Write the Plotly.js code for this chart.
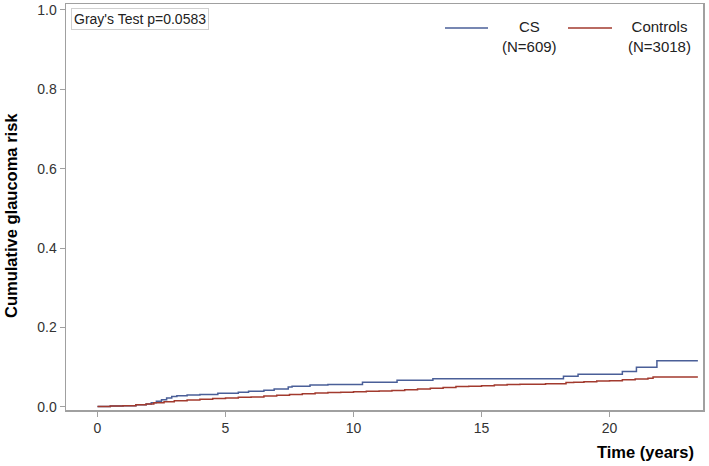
<!DOCTYPE html>
<html>
<head>
<meta charset="utf-8">
<script src="https://cdn.plot.ly/plotly-3.0.1.min.js"></script>
<style>html,body{margin:0;padding:0;background:#fff;}#chart{width:709px;height:466px;}</style>
</head>
<body>
<div id="chart"></div>
<script>
// Cumulative incidence (step functions)
const csTime = [0, 0.5, 1.0, 1.5, 1.9, 2.1, 2.3, 2.5, 2.7, 2.9, 3.1, 3.5, 4.0, 4.7, 5.5, 5.9, 6.5, 6.9, 7.45, 7.6, 8.3, 9.0, 10.35, 11.7, 13.1, 18.2, 18.77, 20.5, 21.05, 21.85, 23.45];
const csRisk = [0.001, 0.002, 0.003, 0.005, 0.007, 0.010, 0.014, 0.018, 0.022, 0.026, 0.028, 0.030, 0.031, 0.034, 0.037, 0.039, 0.042, 0.045, 0.050, 0.052, 0.055, 0.056, 0.062, 0.067, 0.071, 0.077, 0.082, 0.089, 0.100, 0.116, 0.116];

const ctlTime = [0, 0.5, 1.0, 1.5, 1.9, 2.2, 2.6, 3.0, 3.5, 4.0, 4.5, 5.0, 5.5, 6.0, 6.5, 7.0, 7.5, 8.0, 8.5, 9.0, 9.5, 10.0, 10.5, 11.0, 11.5, 12.0, 12.5, 13.0, 13.5, 14.0, 14.5, 15.0, 15.5, 16.0, 16.5, 17.0, 17.5, 18.0, 18.3, 18.6, 19.0, 19.5, 20.0, 20.5, 21.0, 21.5, 21.7, 23.45];
const ctlRisk = [0.001, 0.002, 0.003, 0.005, 0.007, 0.010, 0.013, 0.015, 0.017, 0.019, 0.021, 0.022, 0.024, 0.025, 0.027, 0.029, 0.031, 0.033, 0.035, 0.036, 0.037, 0.038, 0.039, 0.040, 0.041, 0.043, 0.045, 0.047, 0.049, 0.051, 0.052, 0.053, 0.055, 0.056, 0.057, 0.057, 0.058, 0.058, 0.061, 0.062, 0.063, 0.065, 0.066, 0.068, 0.070, 0.072, 0.075, 0.075];

const seriesNames = ["CS", "Controls"];
const seriesN = ["(N=609)", "(N=3018)"];
const seriesColors = ["#4a5f98", "#A23A2E"];
const xTicks = [0, 5, 10, 15, 20];
const yTicks = [0.0, 0.2, 0.4, 0.6, 0.8, 1.0];
const yTickText = ["0.0", "0.2", "0.4", "0.6", "0.8", "1.0"];
const testLabel = "Gray's Test p=0.0583";

const FONT = "Liberation Sans, Arial, sans-serif";

const traces = [
  {x: csTime, y: csRisk, mode: "lines", line: {shape: "hv", color: seriesColors[0], width: 1.5}, name: seriesNames[0], showlegend: false},
  {x: ctlTime, y: ctlRisk, mode: "lines", line: {shape: "hv", color: seriesColors[1], width: 1.5}, name: seriesNames[1], showlegend: false}
];

const axisCommon = {
  showline: true, mirror: true, linecolor: "#a0a0a0", linewidth: 1.5,
  ticks: "outside", ticklen: 5, tickcolor: "#a0a0a0", tickwidth: 1,
  showgrid: false, zeroline: false,
  tickfont: {family: FONT, size: 14, color: "#333"}
};

// legend drawn manually (centered two-line labels)
const legX = [[445, 488, 529], [568, 612, 659]];
const shapes = [];
const annotations = [];
const W = 709, ml = 66, mr = 6, mt = 4, mb = 56;
const pw = W - ml - mr, ph = 466 - mt - mb;
const px = v => (v - ml) / pw;
const py = v => (466 - mb - v) / ph;
for (let i = 0; i < 2; i++) {
  shapes.push({type: "line", xref: "paper", yref: "paper", x0: px(legX[i][0]), x1: px(legX[i][1]), y0: py(28), y1: py(28), line: {color: seriesColors[i], width: 1.5}});
  annotations.push({xref: "paper", yref: "paper", x: px(legX[i][2]), y: py(37), text: seriesNames[i] + "<br>" + seriesN[i], showarrow: false, align: "center", xanchor: "center", yanchor: "middle", font: {family: FONT, size: 15, color: "#222"}});
}
annotations.push({xref: "paper", yref: "paper", x: px(71), y: py(8), xanchor: "left", yanchor: "top", text: testLabel, showarrow: false, bordercolor: "#d0d0d0", borderwidth: 1, borderpad: 2, bgcolor: "#fff", font: {family: FONT, size: 14, color: "#222"}});
annotations.push({xref: "paper", yref: "paper", x: px(696), y: py(452), xanchor: "right", yanchor: "middle", text: "<b>Time (years)</b>", showarrow: false, font: {family: FONT, size: 16.5, color: "#000"}});
annotations.push({xref: "paper", yref: "paper", x: px(11), y: py(216), xanchor: "center", yanchor: "middle", textangle: -90, text: "<b>Cumulative glaucoma risk</b>", showarrow: false, font: {family: FONT, size: 16.5, color: "#000"}});

const layout = {
  width: 709, height: 466,
  margin: {l: ml, r: mr, t: mt, b: mb},
  paper_bgcolor: "#fff", plot_bgcolor: "#fff",
  showlegend: false,
  xaxis: Object.assign({}, axisCommon, {range: [-1.23, 23.65], tickvals: xTicks}),
  yaxis: Object.assign({}, axisCommon, {range: [-0.008, 1.015], tickvals: yTicks, ticktext: yTickText}),
  shapes: shapes,
  annotations: annotations
};

Plotly.newPlot("chart", traces, layout, {displayModeBar: false, staticPlot: true});
</script>
</body>
</html>
